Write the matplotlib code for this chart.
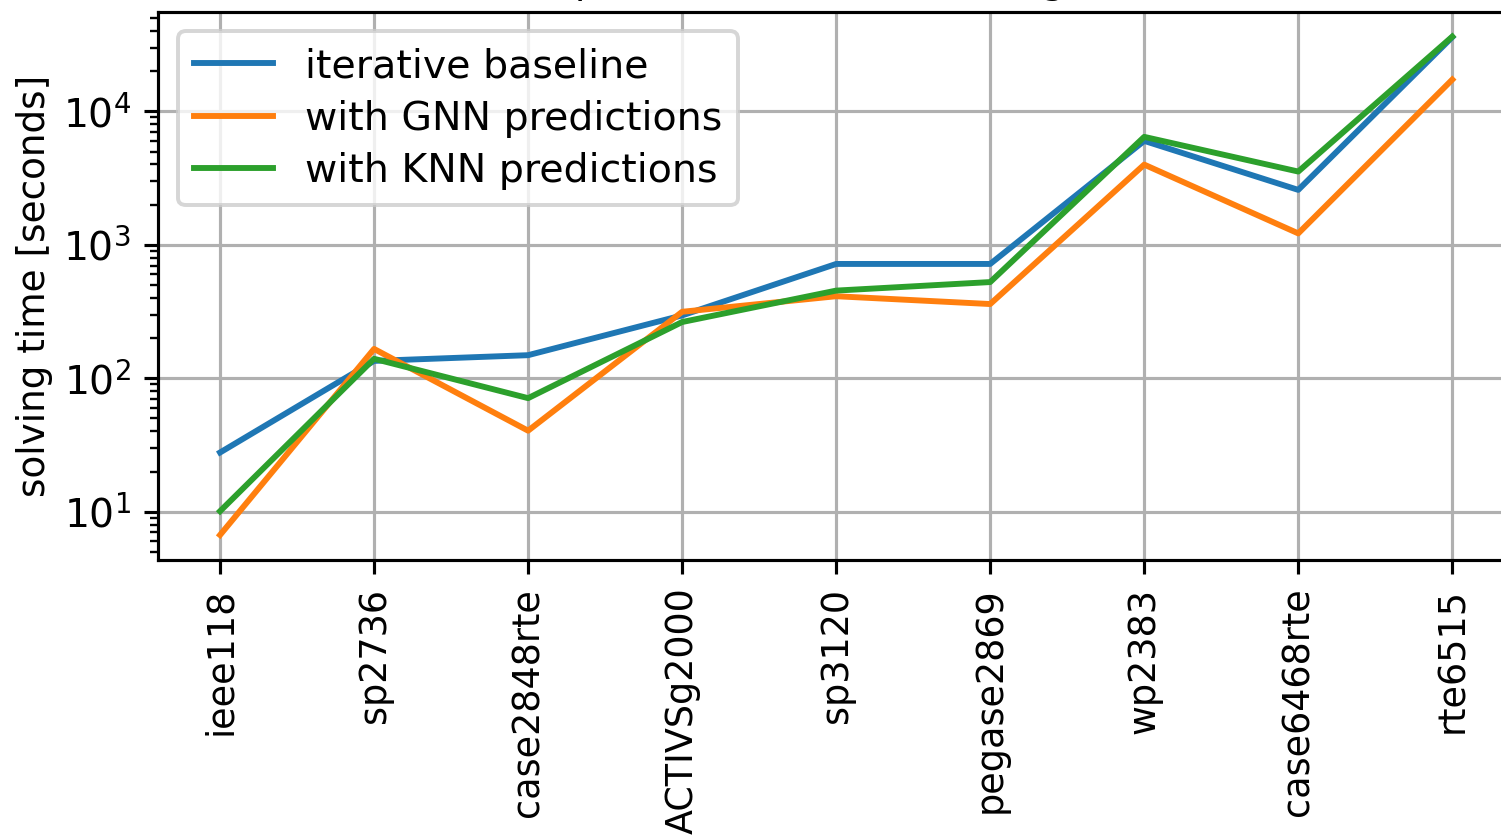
import matplotlib
matplotlib.use("Agg")
import matplotlib.pyplot as plt

cases = ["ieee118", "sp2736", "case2848rte", "ACTIVSg2000", "sp3120",
         "pegase2869", "wp2383", "case6468rte", "rte6515"]
baseline = [27.8, 135, 149, 296, 719, 719, 6010, 2580, 36000]
gnn = [6.7, 166, 40.5, 315, 412, 360, 3990, 1218, 17300]
knn = [10.1, 140, 71, 264, 454, 526, 6440, 3540, 36300]

DPI = 283
W, H = 1501, 837
fig = plt.figure(figsize=((W + 0.3) / DPI, (H + 0.3) / DPI), dpi=DPI)
ax = fig.add_axes([158.4 / W, 277 / H, 1355.2 / W, 548 / H])

ax.plot(cases, baseline, label="iterative baseline")
ax.plot(cases, gnn, label="with GNN predictions")
ax.plot(cases, knn, label="with KNN predictions")
ax.set_yscale("log")
ax.set_ylabel("solving time [seconds]", fontsize=9.5, labelpad=2.5)
ax.tick_params(axis="x", labelrotation=90, labelsize=9.3)
ax.grid(True)
ax.legend(loc="upper left", labelspacing=0.36, fontsize=10.05)
ax.set_title("Comparison of ACOPF solving times", fontsize=10, pad=4.8)

fig.savefig("out.png", dpi=DPI)
